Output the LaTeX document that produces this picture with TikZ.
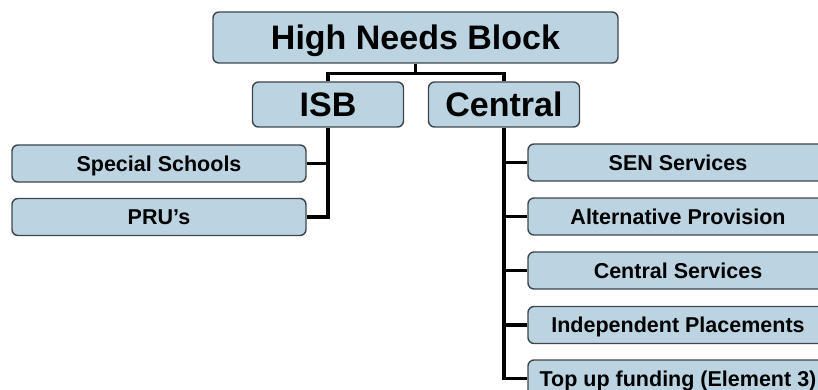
\documentclass[tikz,border=0pt]{standalone}
\usepackage{fontspec}
\setmainfont{Liberation Sans}
\definecolor{boxblue}{RGB}{188,212,226}
\definecolor{boxedge}{RGB}{62,70,76}

\begin{document}
\begin{tikzpicture}[x=1pt,y=-1pt,
    blk/.style={draw=boxedge,line width=1.4pt,fill=boxblue,rounded corners=6pt,inner sep=0pt},
    top/.style={blk,minimum width=405pt,minimum height=51pt,text height=24.5pt,text depth=0pt,font=\bfseries\fontsize{34}{36}\selectfont},
    mid/.style={blk,minimum width=151pt,minimum height=45pt,text height=24pt,text depth=0pt,font=\bfseries\fontsize{34}{36}\selectfont},
    leaf/.style={blk,minimum width=#1,minimum height=37pt,text height=15.2pt,text depth=0pt,font=\bfseries\fontsize{21.5}{23}\selectfont},
    link/.style={line width=3.2pt,black}]
        \useasboundingbox (0,0) rectangle (818,390);
        \clip (0,0) rectangle (818,390);
        \node[top] (hnb) at (415.5,37.5) {High Needs Block};
        \node[mid] (isb) at (328,104.5) {ISB};
        \node[mid] (central) at (504,104.5) {Central};
        \node[leaf=294pt] (special) at (159,163.5) {Special Schools};
        \node[leaf=294pt] (pru) at (159,217) {PRU's};
        \node[leaf=300pt] (sen) at (678,162.5) {SEN Services};
        \node[leaf=300pt] (alt) at (678,216.5) {Alternative Provision};
        \node[leaf=300pt] (cserv) at (678,270.5) {Central Services};
        \node[leaf=300pt] (indep) at (678,325) {Independent Placements};
        \node[leaf=300pt] (topup) at (678,378.5) {Top up funding (Element 3)};
        % tree lines
        \draw[link] (hnb.south) -- +(0,9.5) -| (isb.north);
        \draw[link] (hnb.south) -- +(0,9.5) -| (central.north);
        \draw[link] (isb.south) |- (pru.east);
        \draw[link] (special.east) -- (special.east -| isb.south);
        \draw[link] (central.south) |- (topup.west);
        \foreach \n in {sen,alt,cserv,indep}
            \draw[link] (\n.west) -- (\n.west -| central.south);
      \end{tikzpicture}
\end{document}
